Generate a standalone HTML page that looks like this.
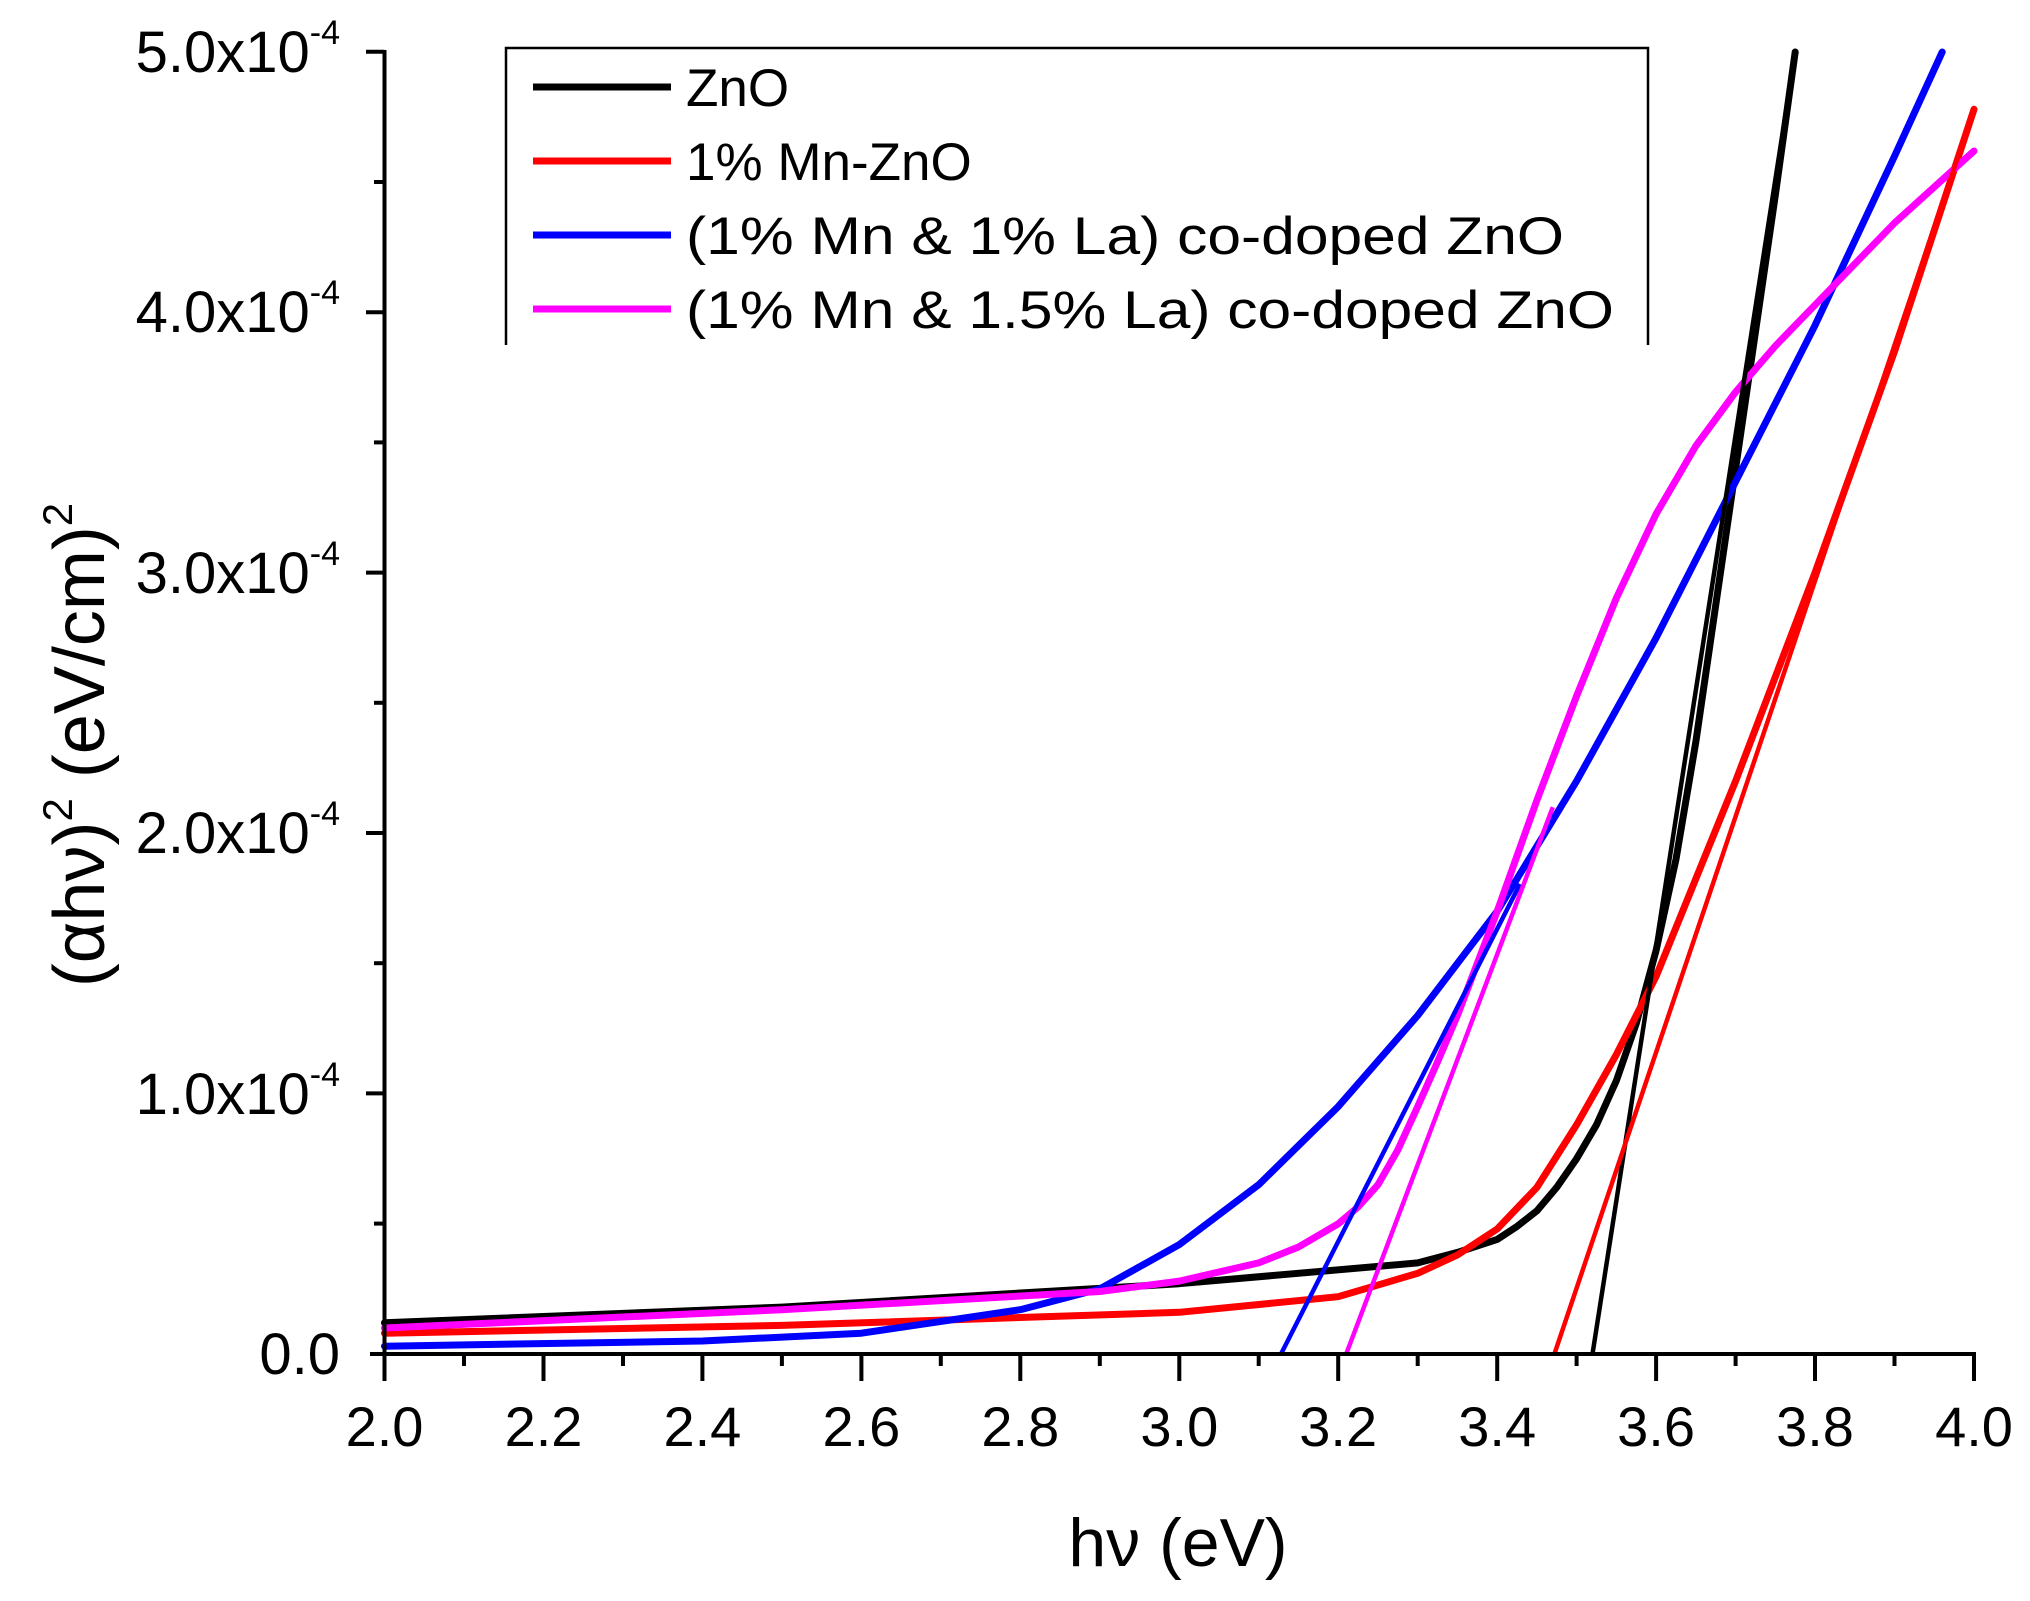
<!DOCTYPE html>
<html><head><meta charset="utf-8"><style>
html,body{margin:0;padding:0;background:#fff;}
svg{display:block;font-family:"Liberation Sans",Arial,sans-serif;}
</style></head><body>
<svg width="2030" height="1601" viewBox="0 0 2030 1601" xmlns="http://www.w3.org/2000/svg">
<rect width="2030" height="1601" fill="#fff"/>
<g fill="none" stroke-width="7" stroke-linejoin="round" stroke-linecap="round">
<polyline stroke="#000" points="384.5,1322.8 781.9,1307.1 1179.3,1283.7 1417.7,1262.9 1457.4,1252.4 1497.2,1239.4 1517,1226.4 1537,1210.8 1556.8,1187.3 1576.6,1158.7 1596.5,1124.8 1616.4,1080.6 1636.3,1023.3 1656.1,950.4 1676,859.2 1695.8,742.1 1735.6,468.6 1775.3,195.2 1795.2,52"/>
<polyline stroke="#f00" points="384.5,1333.2 781.9,1325.4 1179.3,1312.3 1338.2,1296.7 1417.7,1273.3 1457.4,1255 1497.2,1229 1537,1187.3 1576.6,1124.8 1616.4,1054.5 1656.1,976.4 1735.6,781.1 1815,572.8 1894.5,351.5 1974,109.3"/>
<polyline stroke="#00f" points="384.5,1346.2 702.4,1341 861.4,1333.2 1020.3,1309.7 1099.8,1288.9 1179.3,1244.6 1258.7,1184.7 1338.2,1106.6 1417.7,1015.5 1497.2,911.3 1576.6,781.1 1656.1,637.9 1735.6,481.7 1815,325.4 1894.5,156.2 1942.2,52"/>
<polyline stroke="#f0f" points="384.5,1328 781.9,1309.7 1099.8,1291.5 1179.3,1281.1 1258.7,1262.9 1298.5,1247 1338.2,1223.8 1358,1207 1378,1184.7 1397.8,1150 1417.7,1106.6 1437.5,1062 1457.4,1015.5 1497.2,911.3 1537,800 1576.6,696 1616.4,598 1656.1,514 1695.8,446 1735.6,392 1775.3,346 1815,305 1894.5,223 1974,151"/>
</g>
<g stroke-width="4.5">
<line x1="1592.5" y1="1354" x2="1795.2" y2="52" stroke="#000"/>
<line x1="1554.4" y1="1354" x2="1974" y2="109.3" stroke="#f00"/>
<line x1="1281" y1="1354" x2="1520" y2="884" stroke="#00f"/>
<line x1="1346.2" y1="1354" x2="1552.8" y2="807.2" stroke="#f0f"/>
</g>
<g stroke="#000" stroke-width="4" fill="none">
<line x1="384.5" y1="50" x2="384.5" y2="1381"/>
<line x1="370" y1="1354" x2="1976" y2="1354"/>
<line x1="366" y1="51.8" x2="384.5" y2="51.8"/>
<line x1="366" y1="312.2" x2="384.5" y2="312.2"/>
<line x1="366" y1="572.6" x2="384.5" y2="572.6"/>
<line x1="366" y1="833" x2="384.5" y2="833"/>
<line x1="366" y1="1093.4" x2="384.5" y2="1093.4"/>
<line x1="374" y1="182" x2="384.5" y2="182"/>
<line x1="374" y1="442.4" x2="384.5" y2="442.4"/>
<line x1="374" y1="702.8" x2="384.5" y2="702.8"/>
<line x1="374" y1="963.2" x2="384.5" y2="963.2"/>
<line x1="374" y1="1223.6" x2="384.5" y2="1223.6"/>
<path d="M384.5 1354v27M464 1354v12M543.5 1354v27M623 1354v12M702.4 1354v27M781.9 1354v12M861.4 1354v27M940.8 1354v12M1020.3 1354v27M1099.8 1354v12M1179.3 1354v27M1258.7 1354v12M1338.2 1354v27M1417.7 1354v12M1497.2 1354v27M1576.6 1354v12M1656.1 1354v27M1735.6 1354v12M1815 1354v27M1894.5 1354v12M1974 1354v27"/>
</g>
<g font-size="58" fill="#000" text-anchor="end">
<text x="340" y="72">5.0x10<tspan font-size="34" dy="-28">-4</tspan></text>
<text x="340" y="332">4.0x10<tspan font-size="34" dy="-28">-4</tspan></text>
<text x="340" y="593">3.0x10<tspan font-size="34" dy="-28">-4</tspan></text>
<text x="340" y="853">2.0x10<tspan font-size="34" dy="-28">-4</tspan></text>
<text x="340" y="1114">1.0x10<tspan font-size="34" dy="-28">-4</tspan></text>
<text x="340" y="1374">0.0</text>
</g>
<g font-size="56" fill="#000" text-anchor="middle">
<text x="384.5" y="1446">2.0</text>
<text x="543.5" y="1446">2.2</text>
<text x="702.4" y="1446">2.4</text>
<text x="861.4" y="1446">2.6</text>
<text x="1020.3" y="1446">2.8</text>
<text x="1179.3" y="1446">3.0</text>
<text x="1338.2" y="1446">3.2</text>
<text x="1497.2" y="1446">3.4</text>
<text x="1656.1" y="1446">3.6</text>
<text x="1815" y="1446">3.8</text>
<text x="1974" y="1446">4.0</text>
</g>
<text x="1178" y="1566" font-size="68" text-anchor="middle">hν (eV)</text>
<text transform="translate(104,745) rotate(-90)" font-size="72" text-anchor="middle">(αhν)<tspan font-size="42" dy="-32">2</tspan><tspan dy="32"> (eV/cm)</tspan><tspan font-size="42" dy="-32">2</tspan></text>
<rect x="506" y="48" width="1142" height="295" fill="#fff"/>
<polyline points="506,345 506,48 1648,48 1648,345" fill="none" stroke="#000" stroke-width="2.5"/>
<g stroke-width="7">
<line x1="533" y1="87" x2="671" y2="87" stroke="#000"/>
<line x1="533" y1="161" x2="671" y2="161" stroke="#f00"/>
<line x1="533" y1="235" x2="671" y2="235" stroke="#00f"/>
<line x1="533" y1="309" x2="671" y2="309" stroke="#f0f"/>
</g>
<g font-size="53" fill="#000">
<text x="686" y="106">ZnO</text>
<text x="686" y="180">1% Mn-ZnO</text>
<text x="686" y="254" textLength="878" lengthAdjust="spacingAndGlyphs">(1% Mn &amp; 1% La) co-doped ZnO</text>
<text x="686" y="328" textLength="928" lengthAdjust="spacingAndGlyphs">(1% Mn &amp; 1.5% La) co-doped ZnO</text>
</g>
</svg>
</body></html>
